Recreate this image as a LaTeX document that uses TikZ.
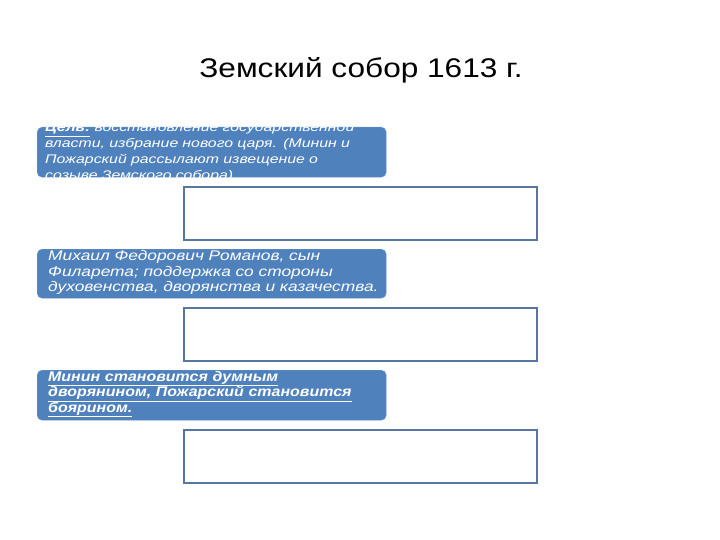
\documentclass[tikz,border=0pt]{standalone}
\usepackage{fontspec}
\setmainfont{Liberation Sans}
\newfontfamily\titlefont[FakeStretch=1.17]{Liberation Sans}
\newfontfamily\goalfont[FakeStretch=1.27]{Liberation Sans}
\newfontfamily\tsarfont[FakeStretch=1.24]{Liberation Sans}
\newfontfamily\rewardfont[FakeStretch=1.14]{Liberation Sans}
\definecolor{boxblue}{HTML}{4F81BD}
\definecolor{boxedge}{HTML}{5777A3}
\tikzset{
    bluebox/.style={draw=boxblue!85!white, fill=boxblue, rounded corners=5pt, anchor=north west, inner sep=0pt},
    emptybox/.style={draw=boxedge, line width=1.6pt, fill=white, anchor=north west, inner sep=0pt},
    boxtext/.style={text=white, align=left, text width=345pt, anchor=base west, inner sep=0pt}
}

\begin{document}
\begin{tikzpicture}[x=1pt,y=-1pt]
    \useasboundingbox[fill=white] (0,0) rectangle (720,540);
    \node[font=\titlefont\fontsize{27}{32}\selectfont] (title) at (361,70) {Земский собор 1613 г.};

    % left column
    \node[bluebox, minimum width=349pt, minimum height=50pt] (goal) at (37,127) {};
    \node[bluebox, minimum width=349pt, minimum height=49pt] (tsar) at (37,249) {};
    \node[bluebox, minimum width=349pt, minimum height=50pt] (reward) at (37,370) {};

    % right column
    \node[emptybox, minimum width=353pt, minimum height=53pt] (answer1) at (183,186) {};
    \node[emptybox, minimum width=353pt, minimum height=53pt] (answer2) at (183,307) {};
    \node[emptybox, minimum width=353pt, minimum height=53pt] (answer3) at (183,429) {};

    \begin{scope}
        \clip[rounded corners=5pt] (goal.north west) rectangle (goal.south east);
        \node[boxtext, font=\goalfont\itshape\fontsize{12.5}{16}\selectfont] (goaltext) at (45,132) {\underline{\textbf{Цель:}} восстановление государственной\\власти, избрание нового царя. (Минин и\\Пожарский рассылают извещение о\\созыве Земского собора)};
    \end{scope}
    \node[boxtext, font=\tsarfont\itshape\fontsize{14}{16}\selectfont] (tsartext) at (48,260) {Михаил Федорович Романов, сын\\Филарета; поддержка со стороны\\духовенства, дворянства и казачества.};
    \node[boxtext, font=\rewardfont\bfseries\itshape\fontsize{14}{15.5}\selectfont] (rewardtext) at (48,381) {\underline{Минин становится думным}\\\underline{дворянином, Пожарский становится}\\\underline{боярином.}};
\end{tikzpicture}
\end{document}
